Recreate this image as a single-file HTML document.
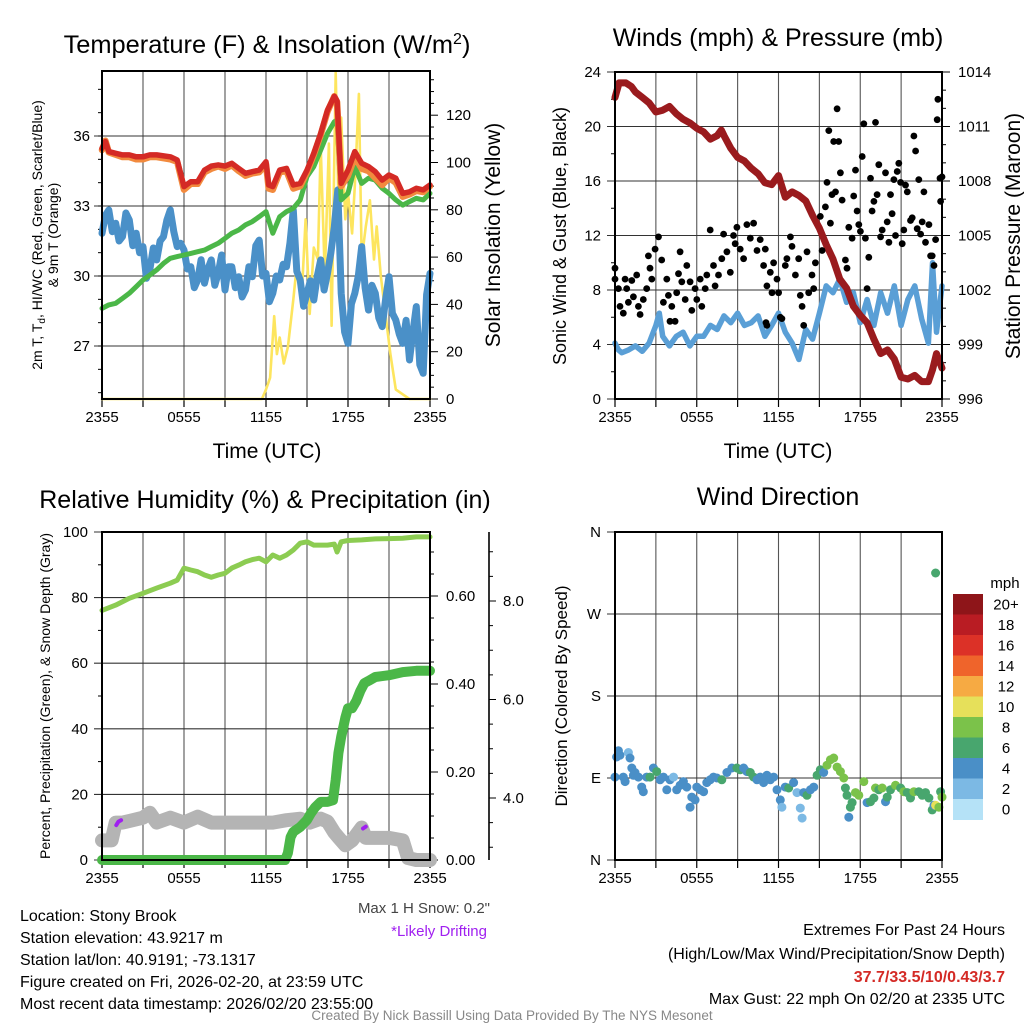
<!DOCTYPE html>
<html><head><meta charset="utf-8">
<style>
html,body{margin:0;padding:0;background:#fff;}
svg{display:block;font-family:"Liberation Sans",Arial,sans-serif;}
</style></head>
<body>
<svg id="chart" width="1024" height="1024" viewBox="0 0 1024 1024" xmlns="http://www.w3.org/2000/svg">
<rect x="0" y="0" width="1024" height="1024" fill="#fff"/>
<g id="layer"></g>
<!-- titles -->
<text x="267" y="53" font-size="25.4" text-anchor="middle">Temperature (F) &amp; Insolation (W/m<tspan dy="-9" font-size="16">2</tspan><tspan dy="9">)</tspan></text>
<text x="778" y="46" font-size="25" text-anchor="middle">Winds (mph) &amp; Pressure (mb)</text>
<text x="265" y="508" font-size="25" text-anchor="middle">Relative Humidity (%) &amp; Precipitation (in)</text>
<text x="778" y="505" font-size="25" text-anchor="middle">Wind Direction</text>
<!-- axis titles -->
<text x="267" y="458" font-size="21" text-anchor="middle">Time (UTC)</text>
<text x="778" y="458" font-size="21" text-anchor="middle">Time (UTC)</text>
<text transform="translate(42,235) rotate(-90)" font-size="14" text-anchor="middle">2m T, T<tspan font-size="10" dy="3">d</tspan><tspan dy="-3">, HI/WC (Red, Green, Scarlet/Blue)</tspan></text>
<text transform="translate(58,235) rotate(-90)" font-size="14" text-anchor="middle">&amp; 9m T (Orange)</text>
<text transform="translate(500,235) rotate(-90)" font-size="21" text-anchor="middle">Solar Insolation (Yellow)</text>
<text transform="translate(566,236) rotate(-90)" font-size="18" text-anchor="middle">Sonic Wind &amp; Gust (Blue, Black)</text>
<text transform="translate(1020,236) rotate(-90)" font-size="21" text-anchor="middle">Station Pressure (Maroon)</text>
<text transform="translate(50,696) rotate(-90)" font-size="14" text-anchor="middle">Percent, Precipitation (Green), &amp; Snow Depth (Gray)</text>
<text transform="translate(567,696) rotate(-90)" font-size="17" text-anchor="middle">Direction (Colored By Speed)</text>
<!-- notes -->
<text x="490" y="913" font-size="15" text-anchor="end" fill="#444">Max 1 H Snow: 0.2"</text>
<text x="487" y="936" font-size="15" text-anchor="end" fill="#a020f0">*Likely Drifting</text>
<g font-size="16">
<text x="20" y="921">Location: Stony Brook</text>
<text x="20" y="943">Station elevation: 43.9217 m</text>
<text x="20" y="965">Station lat/lon: 40.9191; -73.1317</text>
<text x="20" y="987">Figure created on Fri, 2026-02-20, at 23:59 UTC</text>
<text x="20" y="1009">Most recent data timestamp: 2026/02/20 23:55:00</text>
</g>
<g font-size="16" text-anchor="end">
<text x="1005" y="935">Extremes For Past 24 Hours</text>
<text x="1005" y="959">(High/Low/Max Wind/Precipitation/Snow Depth)</text>
<text x="1005" y="982" fill="#d42a25" font-weight="bold">37.7/33.5/10/0.43/3.7</text>
<text x="1005" y="1004">Max Gust: 22 mph On 02/20 at 2335 UTC</text>
</g>
<text x="512" y="1020" font-size="13.5" fill="#888" text-anchor="middle">Created By Nick Bassill Using Data Provided By The NYS Mesonet</text>
</svg>
<script>
// ---------- DATA ----------
var timeTicks = ["2355","0555","1155","1755","2355"];
// Panel 1
var redT = [0,0.25,0.5,1,1.5,2,2.5,3,3.5,4,5,5.5,6,6.5,7,7.5,8,8.5,9,9.5,10,10.5,11,11.5,12,12.2,12.5,13,13.5,14,14.5,15,15.5,16,16.5,17,17.2,17.5,18,18.5,19,19.5,20,20.5,21,21.5,22,22.5,23,23.5,24];
var redV = [35.47,35.76,35.33,35.26,35.19,35.19,35.11,35.11,35.19,35.19,35.11,34.97,33.83,34.04,34.04,34.54,34.71,34.76,34.71,34.83,34.61,34.4,34.47,34.54,34.9,33.9,33.83,34.54,34.61,33.9,33.97,34.54,35.26,36.11,37.11,37.7,37.5,33.97,34.54,35.33,34.83,34.69,34.47,34.11,34.33,34.19,33.54,33.61,33.76,33.69,33.9];
var orangeV = [35.4,35.8,35.3,35.2,35.1,35.1,35.0,35.0,35.1,35.1,35.0,34.9,33.7,33.95,33.95,34.45,34.6,34.7,34.6,34.75,34.5,34.3,34.4,34.45,34.8,33.75,33.7,34.45,34.5,33.75,33.85,34.45,35.2,36.05,37.05,37.7,37.45,33.85,34.3,35.1,34.6,34.5,34.2,33.9,34.2,34.0,33.4,33.5,33.65,33.6,33.85];
var greenT = [0,0.5,1,1.5,2,2.5,3,3.5,4,4.5,5,5.5,6,6.5,7,7.5,8,8.5,9,9.5,10,10.5,11,11.5,12,12.5,13,13.5,14,14.5,15,15.5,16,16.5,17,17.2,17.5,18,18.5,19,19.5,20,20.5,21,21.5,22,22.5,23,23.5,24];
var greenV = [28.61,28.76,28.83,29.04,29.26,29.54,29.83,30.04,30.26,30.54,30.76,30.83,30.9,30.97,31.04,31.11,31.26,31.4,31.61,31.83,31.97,32.19,32.33,32.54,32.76,31.83,32.54,32.76,32.9,33.26,34.26,34.69,35.4,36.11,36.61,36.69,33.26,33.54,34.69,33.97,34.19,34.11,33.76,33.54,33.26,33.04,33.19,33.33,33.26,33.54];
var blueT = [0,0.25,0.5,0.75,1,1.25,1.5,1.75,2,2.25,2.5,2.75,3,3.25,3.5,3.75,4,4.25,4.5,4.75,5,5.25,5.5,5.75,6,6.25,6.5,6.75,7,7.25,7.5,7.75,8,8.25,8.5,8.75,9,9.25,9.5,9.75,10,10.25,10.5,10.75,11,11.25,11.5,11.75,12,12.25,12.5,12.75,13,13.25,13.5,13.75,14,14.25,14.5,14.75,15,15.25,15.5,15.75,16,16.25,16.5,16.75,17,17.25,17.5,17.75,18,18.25,18.5,18.75,19,19.25,19.5,19.75,20,20.25,20.5,20.75,21,21.25,21.5,21.75,22,22.25,22.5,22.75,23,23.25,23.5,23.75,24];
var blueV = [31.83,32.6,32.83,31.9,32.26,31.5,31.69,32.7,32.4,31.3,31.83,31.0,31.26,29.9,30.26,31.2,30.69,31.5,31.69,32.4,32.83,31.9,31.26,31.4,31.11,30.3,30.4,29.5,29.83,30.7,29.69,30.3,30.69,29.6,30.11,30.9,29.4,30.4,30.4,29.5,29.97,29.1,29.4,30.4,29.97,31.3,31.54,30.0,30.11,28.9,29.26,30.0,29.83,30.5,30.4,31.4,32.83,30.2,29.83,28.7,29.26,29.8,28.97,30.0,30.69,29.4,30.11,31.0,32.11,33.69,29.26,27.6,27.11,28.8,29.26,30.0,31.26,29.5,28.54,29.6,29.26,28.2,27.83,29.0,29.97,28.4,28.11,27.5,27.11,28.1,26.4,27.6,28.69,26.2,25.83,29.2,30.11,28.4,27.11];
var solarT = [0,11.7,12,12.3,12.6,12.8,13,13.3,13.6,14,14.3,14.6,14.9,15.2,15.5,15.8,16,16.3,16.6,16.8,17.1,17.3,17.5,17.8,18,18.3,18.5,18.8,19,19.3,19.6,19.9,20.1,20.4,20.8,21.1,21.5,22,22.5,24];
var solarV = [0,0,4,9,35,19,26,15,22,42,59,42,76,36,64,59,107,52,108,31,138,84,119,76,87,70,90,129,59,73,84,59,73,52,33,19,4,2,0,0];
var tempTicks = [27,30,33,36];
var solarTicks = [0,20,40,60,80,100,120];
// Panel 2
var presT = [0,0.3,0.8,1.2,1.5,2,2.5,3,3.5,4,4.5,5,5.5,6,6.5,7,7.5,7.8,8,8.5,9,9.5,10,10.5,11,11.5,12,12.5,13,13.5,14,14.5,15,15.5,16,16.5,17,17.5,18,18.5,19,19.5,20,20.5,21,21.5,22,22.5,23,23.3,23.6,24];
var presV = [1012.6,1013.4,1013.4,1013.2,1012.9,1012.6,1012.3,1011.8,1011.9,1012.1,1011.7,1011.4,1011.2,1010.9,1010.7,1010.3,1010.5,1010.8,1010.5,1009.8,1009.3,1009.1,1008.7,1008.4,1007.9,1007.8,1008.3,1007.1,1007.4,1007.2,1006.9,1006.1,1005.4,1004.5,1003.7,1002.6,1002.1,1001.1,1000.6,1000.2,999.3,998.5,998.7,998.2,997.2,997.1,997.3,996.96,996.96,997.6,998.5,997.7];
var windT = [0,0.25,0.5,1,1.5,2,2.5,3,3.25,3.5,4,4.5,5,5.5,6,6.5,7,7.5,8,8.5,9,9.5,10,10.5,11,11.5,12,12.5,13,13.5,14,14.5,15,15.5,16,16.5,17,17.5,18,18.5,19,19.5,20,20.5,21,21.5,22,22.5,23,23.3,23.6,24];
var windV = [4.1,3.6,3.4,3.6,3.9,3.5,4.1,5.4,6.3,4.6,3.9,4.6,4.9,3.9,4.6,4.6,5.4,5.1,6.1,5.6,6.3,5.4,5.6,6.1,4.6,5.4,6.3,4.9,4.1,2.9,5.1,4.4,6.3,8.3,7.8,8.8,7.1,7.8,5.6,7.3,5.4,7.8,6.3,8.3,5.4,7.3,8.3,5.9,4.1,10.0,4.9,8.3];
var gustT = [0,0,0.25,0.37,0.61,0.74,0.86,0.98,1.23,1.35,1.59,1.72,1.84,2.08,2.33,2.45,2.57,2.7,2.94,3.19,3.43,3.55,3.8,3.92,4.04,4.17,4.41,4.53,4.66,4.78,4.9,5.15,5.27,5.51,5.64,5.88,6.0,6.25,6.37,6.62,6.74,6.99,7.23,7.35,7.6,7.84,7.97,8.21,8.46,8.7,8.82,8.95,9.19,9.44,9.68,9.93,10.17,10.42,10.66,10.91,11.03,11.15,11.4,11.52,11.64,11.89,12.01,12.25,12.5,12.62,12.87,12.99,13.24,13.48,13.6,13.73,13.85,14.09,14.22,14.46,14.58,14.71,11.15,11.08,12.13,
15.07,15.2,15.44,15.56,15.69,15.81,15.93,16.05,16.18,16.3,16.42,16.54,16.67,16.91,17.03,17.16,17.4,17.52,17.65,17.77,17.89,18.01,18.14,18.26,18.38,18.5,18.63,18.75,18.87,19.0,19.12,19.24,19.36,19.49,19.61,19.85,19.98,20.1,20.22,20.34,20.47,20.59,20.71,20.83,20.96,21.08,21.2,21.32,21.45,21.69,21.81,21.94,22.06,22.18,22.3,22.43,22.55,22.67,22.79,23.04,23.16,23.28,23.41,23.53,23.65,23.7,23.85,23.9,24];
var gustV = [8.8,9.6,8.1,6.8,6.3,8.8,8.1,7.1,8.7,7.5,9.1,6.8,6.2,7.3,8.1,10.5,9.6,8.8,11.0,11.9,10.2,7.1,8.8,7.6,5.7,6.8,5.7,7.8,9.2,10.8,8.6,7.3,9.8,8.6,6.5,8.1,7.3,8.8,6.8,8.1,9.1,12.4,9.8,8.3,9.1,10.3,12.1,10.8,9.3,12.0,11.4,12.6,11.0,10.3,12.8,11.8,12.9,10.9,11.7,9.8,11.0,8.3,9.3,7.8,10.0,8.8,7.8,5.9,9.8,10.3,11.9,11.2,9.1,10.3,7.6,6.8,5.4,10.8,7.8,9.1,8.1,10.0,5.4,5.6,6.0,
13.4,10.9,14.1,15.9,19.7,12.9,15.0,18.9,15.2,21.3,18.9,16.6,14.6,10.2,9.6,12.6,11.8,14.9,16.8,13.8,12.8,12.3,17.8,20.2,11.8,8.1,10.4,16.2,13.8,14.5,20.3,15.0,17.2,11.9,12.4,16.6,13.0,11.5,15.0,13.6,16.1,12.0,16.7,17.3,15.9,11.4,12.4,15.7,15.2,13.1,13.3,19.3,18.2,12.5,16.1,12.1,13.0,15.2,11.5,12.8,10.5,10.5,9.8,11.7,20.5,22.0,16.2,14.5,16.3];
var windTicks = [0,4,8,12,16,20,24];
var presTicks = [996,999,1002,1005,1008,1011,1014];
// Panel 3
var rhT = [0,1,2,3,4,5,5.5,6,6.5,7,7.5,8,8.5,9,9.5,10,10.5,11,11.5,12,12.5,13,13.5,14,14.5,15,15.5,16,16.5,17,17.2,17.5,18,19,20,21,22,23,24];
var rhV = [76.1,77.7,79.8,81.3,82.9,84.4,85.3,89,88.4,87.9,86.9,86.2,86.9,87.4,89,89.9,90.9,91.6,92,90.9,93,92,93,94.5,96.6,97,96,96,96,96.3,93.9,97,97.4,97.6,97.9,98,98.1,98.5,98.5];
var precT = [0,13.4,13.6,13.8,14,14.5,15,15.3,15.6,16,16.5,16.9,17.1,17.3,17.5,17.8,18,18.3,18.6,18.9,19.2,19.5,20,21,22,23,24];
var precV = [0,0,0.016,0.052,0.064,0.075,0.091,0.107,0.12,0.132,0.132,0.136,0.182,0.243,0.28,0.323,0.345,0.345,0.361,0.384,0.402,0.407,0.416,0.42,0.427,0.43,0.43];
var snowT = [0,0.7,1.0,1.5,3,3.5,4,5,6,7,8,12.5,13.5,14.5,15.2,16,16.5,17,17.3,17.8,18.3,19,19.3,20,21,22,22.4,23,24];
var snowV = [3.14,3.14,3.5,3.5,3.6,3.7,3.5,3.6,3.5,3.62,3.5,3.5,3.55,3.58,3.5,3.58,3.52,3.3,3.2,3.04,3.14,3.4,3.19,3.19,3.19,3.14,2.78,2.74,2.74];
var driftT = [1.05,1.2,1.4,19.1,19.3];
var driftV = [3.45,3.52,3.55,3.38,3.42];
var pctTicks = [0,20,40,60,80,100];
var precTicks = [0.00,0.20,0.40,0.60];
var snowTicks = [4.0,6.0,8.0];
// Panel 4
var dirT = [0,0.12,0.25,0.37,0.61,0.74,0.98,1.1,1.23,1.35,1.47,1.72,1.96,2.08,2.33,2.57,2.82,3.06,3.31,3.55,3.8,4.04,4.29,4.53,4.78,5.02,5.27,5.51,5.64,5.88,6.0,6.25,6.5,6.74,6.99,7.23,7.48,7.84,8.21,8.58,8.95,9.19,9.44,9.68,9.93,10.17,10.42,10.66,10.91,11.15,11.4,11.64,11.89,12.13,12.25,12.5,12.75,13.11,13.36,13.6,13.73,13.85,14.09,14.34,14.58,14.83,15.07,15.32,15.56,15.81,16.05,16.3,16.54,16.79,16.91,17.03,17.28,17.16,17.4,17.65,17.89,18.26,18.5,18.75,19.0,19.12,19.36,19.61,19.85,19.98,20.22,20.59,20.96,21.2,21.45,21.69,21.94,22.3,22.55,22.79,23.04,23.28,23.41,23.53,23.77,23.9,24,23.53];
var dirV = [91,113,120,115,91,86,118,112,101,93,96,91,80,75,91,91,101,97,88,91,77,88,91,77,82,86,80,58,69,66,80,77,75,85,88,91,90,88,96,101,101,99,101,97,96,91,88,91,85,93,88,91,77,66,58,80,79,85,74,57,46,74,71,77,80,93,99,96,104,110,112,102,97,90,79,71,58,47,63,74,71,86,63,64,68,79,77,79,64,69,77,82,79,75,74,68,75,75,71,74,68,55,60,60,58,75,69,315];
var dirSpd = [5,5,5,5,5,5,3,5,5,5,5,5,5,5,5,7,5,7,5,5,5,5,3,5,5,5,5,5,5,5,5,5,5,5,5,5,5,7,5,5,7,7,5,5,7,7,5,5,5,5,5,5,5,5,3,5,7,5,3,3,3,5,7,5,5,7,7,5,9,9,9,9,9,9,7,7,7,5,7,9,9,9,5,7,7,9,7,9,5,7,7,9,7,9,7,7,9,7,7,7,7,7,5,10.5,9,7,9,7];
var cbLabels = ["20+","18","16","14","12","10","8","6","4","2","0"];
var cbColors = ["#8e1519","#b91c23","#dc3127","#ef642b","#f6aa43","#e6e05a","#7bc24a","#48a66e","#4a8fc7","#7cb9e4","#b5e2f7"];
var dirTicks = ["N","E","S","W","N"];

// ---------- DRAWING ----------
var NS = "http://www.w3.org/2000/svg";
var layer = document.getElementById("layer");
function mk(tag, attrs, parent) {
  var e = document.createElementNS(NS, tag);
  for (var k in attrs) e.setAttribute(k, attrs[k]);
  (parent || layer).appendChild(e);
  return e;
}
function polyline(xs, ys, fx, fy, color, w, name, cap) {
  var pts = [];
  for (var i = 0; i < xs.length; i++) pts.push(fx(xs[i]).toFixed(1) + "," + fy(ys[i]).toFixed(1));
  var el = mk("polyline", {points: pts.join(" "), fill: "none", stroke: color, "stroke-width": w, "stroke-linejoin": "round", "stroke-linecap": cap || "round"});
  
  
  return el;
}
function txt(x, y, s, size, anchor, name) {
  var el = mk("text", {x: x, y: y, "font-size": size, "text-anchor": anchor});
  el.textContent = s;
  
  
  return el;
}
function ln(x1, y1, x2, y2, color, w, name) {
  var el = mk("line", {x1: x1, y1: y1, x2: x2, y2: y2, stroke: color, "stroke-width": w});
  
  
  return el;
}
function frame(L, T, R, B, name) {
  for (var h = 3; h < 24; h += 3) {
    var x = L + (R - L) * h / 24;
    ln(x, T, x, B, "#555", 1.1, name + "-vgrid");
  }
  for (var k = 0; k <= 8; k++) {
    var xx = L + (R - L) * k / 8;
    ln(xx, B, xx, B + 8, "#000", 1.2, name + "-x-tick");
  }
  for (var j = 0; j < timeTicks.length; j++) {
    txt(L + (R - L) * j / 4, B + 23, timeTicks[j], 15, "middle", name + "-x-tick-label");
  }
}
function box(L, T, R, B, name) {
  var el = mk("rect", {x: L, y: T, width: R - L, height: B - T, fill: "none", stroke: "#000", "stroke-width": 2});
  
  
}

// ===== Panel 1 =====
(function(){
  var L=102,T=71,R=430,B=399;
  var x = function(t){return L + (R-L)*t/24;};
  var yT = function(v){return 276 - (v-30)*70/3;};
  var yS = function(v){return B - v*47.3/20;};
  frame(L,T,R,B,"temp");
  for (var i=0;i<tempTicks.length;i++){ ln(L-8,yT(tempTicks[i]),R,yT(tempTicks[i]),"#333",1.1,"temp-hgrid"); txt(L-12,yT(tempTicks[i])+5,String(tempTicks[i]),15,"end","temp-y-tick-label"); }
  for (var v=25;v<=38;v++){ ln(L-4,yT(v),L,yT(v),"#000",1,"temp-minor-tick"); }
  for (var s=0;s<=135;s+=5){ var big = s%20===0; ln(R,yS(s),R+(big?8:4),yS(s),"#000",1,"solar-tick"); }
  for (var j=0;j<solarTicks.length;j++){ txt(R+16,yS(solarTicks[j])+5,String(solarTicks[j]),15,"start","solar-y-tick-label"); }
  polyline(solarT,solarV,x,yS,"#fde55e",2.6,"solar-line");
  polyline(blueT,blueV,x,yT,"#4a90c8",7,"windchill-line");
  polyline(greenT,greenV,x,yT,"#4bb748",5,"dewpoint-line");
  polyline(redT,orangeV,x,yT,"#f28a3e",6.5,"temp-9m-line");
  polyline(redT,redV,x,yT,"#d42a25",5.5,"temp-2m-line");
  box(L,T,R,B,"temp-plot-frame");
})();

// ===== Panel 2 =====
(function(){
  var L=615,T=72,R=942,B=399;
  var x = function(t){return L + (R-L)*t/24;};
  var yW = function(v){return B - v*(B-T)/24;};
  var yP = function(v){return B - (v-996)*(B-T)/18;};
  frame(L,T,R,B,"wind");
  for (var i=0;i<windTicks.length;i++){ ln(L-8,yW(windTicks[i]),R,yW(windTicks[i]),"#333",1.1,"wind-hgrid"); txt(L-14,yW(windTicks[i])+5,String(windTicks[i]),15,"end","wind-y-tick-label"); }
  for (var v=2;v<24;v+=4){ ln(L-4,yW(v),L,yW(v),"#000",1,"wind-minor-tick"); }
  for (var p=996;p<=1014;p++){ var big=(p-996)%3===0; ln(R,yP(p),R+(big?8:4),yP(p),"#000",1,"pressure-tick"); }
  for (var j=0;j<presTicks.length;j++){ txt(R+16,yP(presTicks[j])+5,String(presTicks[j]),15,"start","pressure-y-tick-label"); }
  polyline(windT,windV,x,yW,"#5a9fd6",5.5,"wind-speed-line");
  polyline(presT,presV,x,yP,"#9a1b1e",7,"pressure-line");
  for (var k=0;k<gustT.length;k++){
    var c = mk("circle",{cx:x(gustT[k]).toFixed(1),cy:yW(gustV[k]).toFixed(1),r:3.4,fill:"#000"});
    
    
  }
  box(L,T,R,B,"wind-plot-frame");
})();

// ===== Panel 3 =====
(function(){
  var L=102,T=532,R=430,B=860;
  var x = function(t){return L + (R-L)*t/24;};
  var yR = function(v){return B - v*(B-T)/100;};
  var yPr = function(v){return B - v*440;};
  var yS = function(v){return Math.min(B, 995 - v*49.25);};
  frame(L,T,R,B,"rh");
  for (var i=0;i<pctTicks.length;i++){ ln(L-8,yR(pctTicks[i]),R,yR(pctTicks[i]),"#333",1.1,"rh-hgrid"); txt(L-14,yR(pctTicks[i])+5,String(pctTicks[i]),15,"end","rh-y-tick-label"); }
  for (var v=10;v<100;v+=20){ ln(L-4,yR(v),L,yR(v),"#000",1,"rh-minor-tick"); }
  for (var p=0;p<=0.74;p+=0.05){ var big=Math.abs(Math.round(p*100)%20)===0; ln(R,yPr(p),R+(big?8:4),yPr(p),"#000",1,"precip-tick"); }
  for (var j=0;j<precTicks.length;j++){ txt(R+16,yPr(precTicks[j])+5,precTicks[j].toFixed(2),15,"start","precip-y-tick-label"); }
  ln(489,T,489,B,"#000",1.6,"snow-axis-line");
  for (var s=3.0;s<=9.5;s+=0.5){ var yy=995-s*49.25; if(yy<T||yy>B) continue; var bg=(s%2===0); ln(489,yy,489+(bg?7:4),yy,"#000",1,"snow-tick"); }
  for (var m=0;m<snowTicks.length;m++){ txt(503,995-snowTicks[m]*49.25+5,snowTicks[m].toFixed(1),15,"start","snow-y-tick-label"); }
  polyline(rhT,rhV,x,yR,"#8ccc52",5,"rh-line");
  polyline(snowT,snowV,x,yS,"#b4b4b4",14,"snow-depth-line");
  polyline(driftT.slice(0,3),driftV.slice(0,3),x,yS,"#a020f0",4,"drift-mark-1");
  polyline(driftT.slice(3),driftV.slice(3),x,yS,"#a020f0",4,"drift-mark-2");
  polyline(precT,precV,x,yPr,"#4bb748",10,"precip-line");
  box(L,T,R,B,"rh-plot-frame");
})();

// ===== Panel 4 =====
(function(){
  var L=615,T=532,R=942,B=860;
  var x = function(t){return L + (R-L)*t/24;};
  var yD = function(d){return B - d*(B-T)/360;};
  frame(L,T,R,B,"dir");
  for (var i=0;i<dirTicks.length;i++){ var yy=B-i*(B-T)/4; ln(L-8,yy,R,yy,"#333",1.1,"dir-hgrid"); txt(L-14,yy+5,dirTicks[i],15,"end","dir-y-tick-label"); }
  function col(s){ var idx = Math.min(10, Math.floor(s/2)); return cbColors[10-idx]; }
  for (var k=0;k<dirT.length;k++){
    var c = mk("circle",{cx:x(dirT[k]).toFixed(1),cy:yD(dirV[k]).toFixed(1),r:4.5,fill:col(dirSpd[k])});
    
    
  }
  box(L,T,R,B,"dir-plot-frame");
  var cbTop=594, bh=20.5;
  txt(1005,588,"mph",15,"middle","colorbar-title");
  for (var b=0;b<cbColors.length;b++){
    var r = mk("rect",{x:953,y:cbTop+b*bh,width:30,height:bh+0.5,fill:cbColors[b]});
    
    
    txt(1006,cbTop+b*bh+bh/2+5,cbLabels[b],15,"middle","colorbar-label");
  }
})();
</script>
</body></html>
